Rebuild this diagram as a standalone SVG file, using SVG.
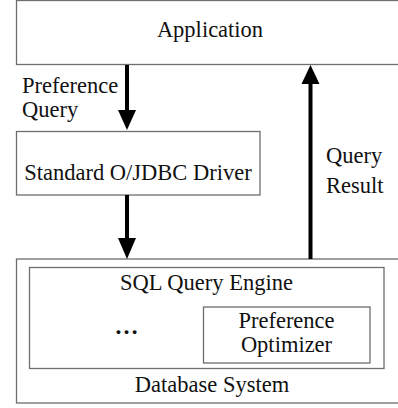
<svg xmlns="http://www.w3.org/2000/svg" width="398" height="408" viewBox="0 0 398 408">
<style>
.box{fill:#fff;stroke:#6e6e6e;stroke-width:1.3}
text{font-family:'Liberation Serif','Times New Roman',Times,serif;font-size:22.5px;fill:#111}
.c{text-anchor:middle}
.shaft{stroke:#000;stroke-width:4;fill:none}
.head{fill:#000}
</style>
<rect width="398" height="408" fill="#fff"/>
<g id="application">
<rect class="box" x="16.5" y="0.5" width="392" height="64"/>
<text class="c" x="210" y="37">Application</text>
</g>
<g id="driver">
<rect class="box" x="16.5" y="131.5" width="243.5" height="63.5"/>
<text class="c" x="138" y="180">Standard O/JDBC Driver</text>
</g>
<g id="database">
<rect class="box" x="16.5" y="259" width="392" height="144"/>
<text class="c" x="212" y="392">Database System</text>
</g>
<g id="engine">
<rect class="box" x="29.5" y="267.5" width="354.5" height="101"/>
<text class="c" x="206.5" y="290">SQL Query Engine</text>
<text class="c" x="126.5" y="334" style="font-size:24px;font-weight:bold">…</text>
</g>
<g id="optimizer">
<rect class="box" x="203.5" y="307" width="166.5" height="56"/>
<text class="c" x="286.5" y="328">Preference</text>
<text class="c" x="286.5" y="352">Optimizer</text>
</g>
<g id="connectors">
<line class="shaft" x1="127" y1="65" x2="127" y2="112"/>
<polygon class="head" points="118,110 136,110 127,130"/>
<line class="shaft" x1="127" y1="195" x2="127" y2="240"/>
<polygon class="head" points="118,238 136,238 127,259"/>
<line class="shaft" x1="310.5" y1="259" x2="310.5" y2="82"/>
<polygon class="head" points="301.5,84 319.5,84 310.5,65"/>
<text x="22" y="93">Preference</text>
<text x="22" y="117">Query</text>
<text x="326" y="163">Query</text>
<text x="326" y="193">Result</text>
</g>
</svg>
